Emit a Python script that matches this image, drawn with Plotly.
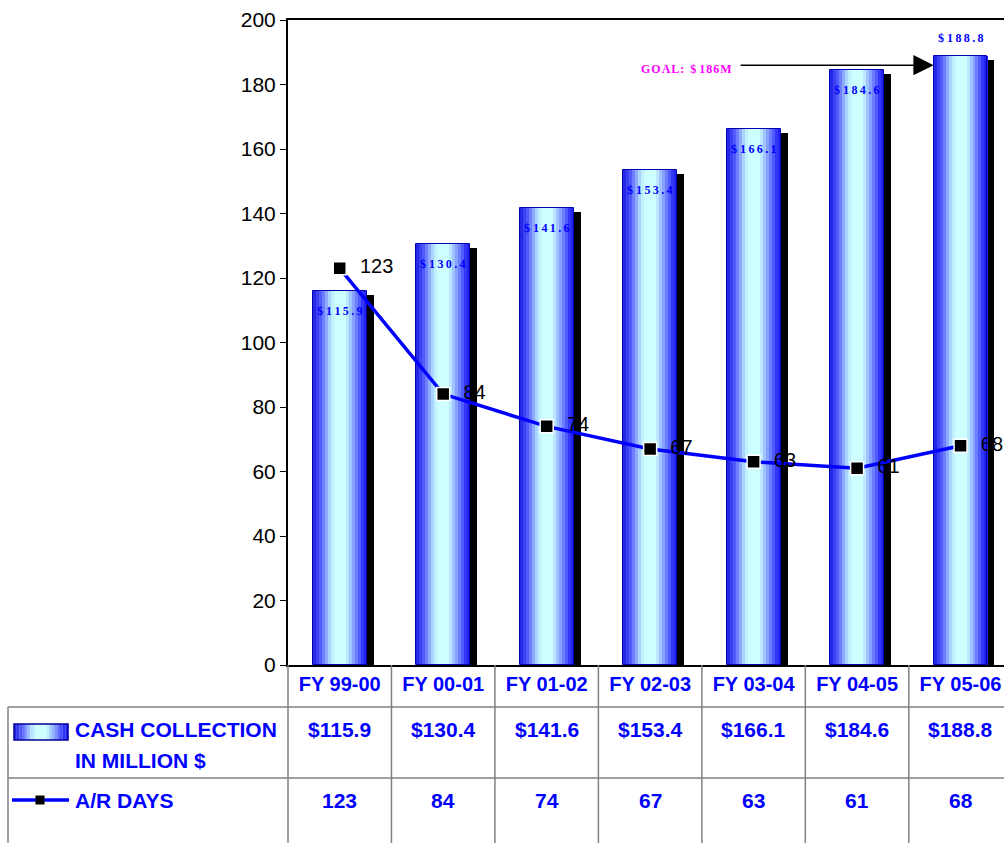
import plotly.graph_objects as go

# ---------------- data ----------------
categories = ["FY 99-00", "FY 00-01", "FY 01-02", "FY 02-03", "FY 03-04", "FY 04-05", "FY 05-06"]
cash_collection = [115.9, 130.4, 141.6, 153.4, 166.1, 184.6, 188.8]
ar_days = [123, 84, 74, 67, 63, 61, 68]
goal_value = 186
goal_label = "GOAL: $ 186M"
y_ticks = [0, 20, 40, 60, 80, 100, 120, 140, 160, 180, 200]
row1_label = ["CASH COLLECTION", "IN MILLION $"]
row2_label = "A/R DAYS"

# ---------------- layout constants ----------------
W, H = 1004, 843
ML, MT = 288, 20
PLOT_BOTTOM = 665
MB = H - PLOT_BOTTOM
PW, PH = W - ML, PLOT_BOTTOM - MT
X_RANGE = [-0.5, 6.42]
BAR_W = 0.52
N_STRIPES = 18
BLUE = "#0000ff"
GRID = "#808080"


def lerp(a, b, t):
    return tuple(int(round(a[i] + (b[i] - a[i]) * t)) for i in range(3))


STOPS = [(0.0, (28, 28, 225)), (0.15, (85, 95, 255)), (0.33, (185, 230, 255)),
         (0.42, (205, 255, 255)), (0.6, (205, 255, 255)), (0.8, (110, 130, 255)),
         (0.94, (40, 40, 250)), (1.0, (30, 30, 235))]


def grad_color(t):
    for (t0, c0), (t1, c1) in zip(STOPS[:-1], STOPS[1:]):
        if t0 <= t <= t1:
            c = lerp(c0, c1, (t - t0) / (t1 - t0))
            return "rgb(%d,%d,%d)" % c
    return "rgb(%d,%d,%d)" % STOPS[-1][1]


def px_to_paper_x(px):
    return (px - ML) / PW


def py_to_paper_y(py):
    return (PLOT_BOTTOM - py) / PH


def cat_to_paper_x(c):
    return (c - X_RANGE[0]) / (X_RANGE[1] - X_RANGE[0])


fig = go.Figure()

# shadow bars
fig.add_trace(go.Bar(
    x=categories, y=[v - 1.2 for v in cash_collection],
    width=BAR_W, offset=-BAR_W / 2 + 0.068,
    marker=dict(color="black", line=dict(width=0)),
    hoverinfo="skip", showlegend=False,
))

# gradient stripes
sw = BAR_W / N_STRIPES
for k in range(N_STRIPES):
    t = (k + 0.5) / N_STRIPES
    fig.add_trace(go.Bar(
        x=categories, y=cash_collection,
        width=sw * 1.05, offset=-BAR_W / 2 + k * sw,
        marker=dict(color=grad_color(t), line=dict(width=0)),
        hoverinfo="skip", showlegend=False,
    ))

# outline
fig.add_trace(go.Bar(
    x=categories, y=cash_collection,
    width=BAR_W, offset=-BAR_W / 2,
    marker=dict(color="rgba(0,0,0,0)", line=dict(color="#0000b0", width=1)),
    name="CASH COLLECTION", showlegend=False,
))

# A/R days line
fig.add_trace(go.Scatter(
    x=categories, y=ar_days, mode="lines+markers+text",
    text=["  " + str(v) for v in ar_days], textposition="middle right",
    textfont=dict(family="Liberation Sans, Arial", size=20, color="black"),
    line=dict(color=BLUE, width=3.5),
    marker=dict(symbol="square", size=13, color="black", line=dict(color="white", width=1.5)),
    cliponaxis=False, showlegend=False, name="A/R DAYS",
))

annotations = []
shapes = []


def spaced(s):
    return "\u2009".join(list(s))


# bar value labels
for i, (c, v) in enumerate(zip(categories, cash_collection)):
    inside = i < len(cash_collection) - 1
    annotations.append(dict(
        x=c, y=v, xref="x", yref="y", showarrow=False,
        text="$ " + spaced("%.1f" % v),
        font=dict(family="Liberation Serif, Times New Roman", size=12, color=BLUE, weight="bold"),
        yanchor="top" if inside else "bottom", yshift=-11 if inside else 9, xshift=0,
    ))

# goal arrow
tip_x = len(categories) - 1 - BAR_W / 2
tail_x = 3.86
annotations.append(dict(
    x=tip_x, y=goal_value, xref="x", yref="y", ax=tail_x, ay=goal_value,
    axref="x", ayref="y", text="", showarrow=True, arrowhead=2, arrowsize=2.7,
    arrowwidth=1.5, arrowcolor="black", standoff=0,
))
annotations.append(dict(
    x=tail_x, y=goal_value, xref="x", yref="y", showarrow=False,
    text="G\u200aO\u200aA\u200aL\u200a:  $ 1\u200a8\u200a6\u200aM",
    font=dict(family="Liberation Serif, Times New Roman", size=12, color="#ff00ff", weight="bold"),
    xanchor="right", xshift=-5, yshift=-4,
))

# table values
row1_y = py_to_paper_y(729)
row2_y = py_to_paper_y(800)
tfont = dict(family="Liberation Sans, Arial", size=21, color=BLUE, weight="bold")
for c, v, d in zip(categories, cash_collection, ar_days):
    annotations.append(dict(x=c, y=row1_y, xref="x", yref="paper", showarrow=False,
                            text="$%.1f" % v, font=tfont, yanchor="middle"))
    annotations.append(dict(x=c, y=row2_y, xref="x", yref="paper", showarrow=False,
                            text=str(d), font=tfont, yanchor="middle"))

# row labels
annotations.append(dict(x=px_to_paper_x(73), y=row1_y, xref="paper", yref="paper", showarrow=False,
                        text=row1_label[0], font=tfont, xanchor="left", yanchor="middle"))
annotations.append(dict(x=px_to_paper_x(73), y=py_to_paper_y(760), xref="paper", yref="paper",
                        showarrow=False, text=row1_label[1], font=tfont, xanchor="left", yanchor="middle"))
annotations.append(dict(x=px_to_paper_x(73), y=row2_y, xref="paper", yref="paper", showarrow=False,
                        text=row2_label, font=tfont, xanchor="left", yanchor="middle"))

# legend icons
lx0, lx1 = 14, 68
ly0, ly1 = 724, 740
n_icon = 20
for k in range(n_icon):
    t = (k + 0.5) / n_icon
    shapes.append(dict(type="rect", xref="paper", yref="paper",
                       x0=px_to_paper_x(lx0 + (lx1 - lx0) * k / n_icon),
                       x1=px_to_paper_x(lx0 + (lx1 - lx0) * (k + 1.05) / n_icon),
                       y0=py_to_paper_y(ly0), y1=py_to_paper_y(ly1),
                       fillcolor=grad_color(t), line=dict(width=0)))
shapes.append(dict(type="rect", xref="paper", yref="paper",
                   x0=px_to_paper_x(lx0), x1=px_to_paper_x(lx1),
                   y0=py_to_paper_y(ly0), y1=py_to_paper_y(ly1),
                   line=dict(color="#000099", width=1.5)))
shapes.append(dict(type="line", xref="paper", yref="paper",
                   x0=px_to_paper_x(12), x1=px_to_paper_x(69),
                   y0=row2_y, y1=row2_y, line=dict(color=BLUE, width=3.5)))
shapes.append(dict(type="rect", xref="paper", yref="paper",
                   x0=px_to_paper_x(35.5), x1=px_to_paper_x(44.5),
                   y0=py_to_paper_y(795.5), y1=py_to_paper_y(804.5),
                   fillcolor="black", line=dict(width=0)))

# table grid
bottom = py_to_paper_y(843)
for py in (707, 778):
    shapes.append(dict(type="line", xref="paper", yref="paper",
                       x0=px_to_paper_x(8), x1=1, y0=py_to_paper_y(py), y1=py_to_paper_y(py),
                       line=dict(color=GRID, width=1.5)))
shapes.append(dict(type="line", xref="paper", yref="paper",
                   x0=px_to_paper_x(8), x1=px_to_paper_x(8), y0=py_to_paper_y(707), y1=bottom,
                   line=dict(color=GRID, width=1.5)))
shapes.append(dict(type="line", xref="paper", yref="paper",
                   x0=0, x1=0, y0=0, y1=bottom, line=dict(color=GRID, width=1.5)))
for i in range(len(categories) - 1):
    xb = cat_to_paper_x(i + 0.5)
    shapes.append(dict(type="line", xref="paper", yref="paper",
                       x0=xb, x1=xb, y0=0, y1=bottom, line=dict(color=GRID, width=1.5)))

fig.update_layout(
    width=W, height=H,
    margin=dict(l=ML, r=0, t=MT, b=MB),
    paper_bgcolor="white", plot_bgcolor="white",
    barmode="overlay", bargap=0,
    showlegend=False,
    annotations=annotations, shapes=shapes,
    xaxis=dict(
        type="category", categoryorder="array", categoryarray=categories,
        range=X_RANGE, showgrid=False, zeroline=False,
        showline=True, mirror=True, linecolor="black", linewidth=1.5,
        ticks="", tickfont=dict(family="Liberation Sans, Arial", size=20, color=BLUE, weight="bold"),
        fixedrange=True,
    ),
    yaxis=dict(
        range=[0, 200], tickvals=y_ticks, showgrid=False, zeroline=False,
        showline=True, linecolor="black", linewidth=2,
        ticks="outside", ticklen=6, tickcolor="black", tickwidth=1,
        tickfont=dict(family="Liberation Sans, Arial", size=21, color="black"),
        fixedrange=True,
    ),
)

fig.write_html(
    "out.html",
    config={"displayModeBar": False},
    post_script="document.body.style.margin='0';document.body.style.overflow='hidden';",
)
